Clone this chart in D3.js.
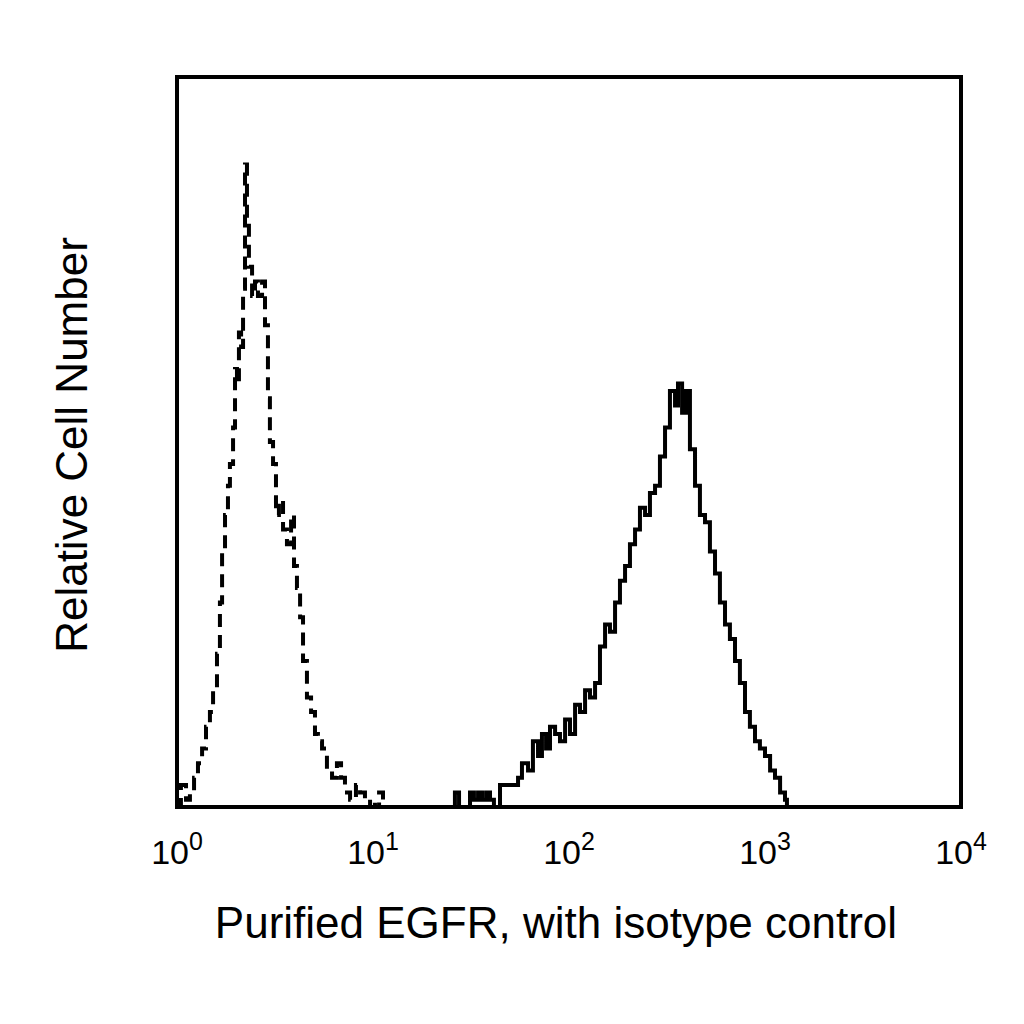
<!DOCTYPE html>
<html><head><meta charset="utf-8">
<script src="https://cdn.jsdelivr.net/npm/d3@7"></script>
<style>body{margin:0;background:#fff}</style></head>
<body><svg id="c" width="1024" height="1024"></svg>
<script>
// log10 fluorescence intensity (decades) and relative counts
const isoLog = [0,.020,.046,.066,.087,.107,.128,.148,.168,.184,.204,.219,.230,.245,.260,.270,.286,.296,.306,.316,.327,.337,.347,.357,.367,.383,.398,.413,.434,.449,.464,.474,.490,.505,.520,.541,.561,.582,.597,.612,.628,.643,.663,.684,.704,.719,.740,.765,.791,.816,.837,.857,.883,.913,.934,.959,.985,1.010,1.031,1.051];
const isoCount = [0,3,1,2,4,6,8,11,13,16,21,28,35,40,44,47,52,60,58,65,63,71,88,80,74,70,72,70,72,66,56,50,47,40,42,38,36,40,33,30,26,20,15,13,10,9,8,5,4,6,4,2,1,3,2,0,1,0,2,0];
const egfrLog = [1.403,1.418,1.439,1.495,1.515,1.536,1.556,1.577,1.597,1.617,1.648,1.699,1.740,1.760,1.791,1.816,1.842,1.862,1.883,1.903,1.929,1.954,1.980,2.005,2.031,2.056,2.082,2.107,2.133,2.158,2.184,2.209,2.235,2.260,2.286,2.311,2.337,2.362,2.388,2.413,2.439,2.464,2.490,2.515,2.541,2.556,2.577,2.597,2.617,2.643,2.668,2.694,2.719,2.745,2.770,2.796,2.821,2.847,2.872,2.898,2.923,2.949,2.974,3.000,3.026,3.051,3.077,3.102,3.112];
const egfrCount = [0,2,0,2,1,2,1,2,1,0,3,3,4,6,5,9,7,10,8,11,10,9,12,10,14,13,16,15,17,22,25,24,28,31,33,36,38,41,40,43,44,48,52,57,55,58,54,57,49,44,40,39,35,32,28,25,23,20,17,13,11,9,8,7,5,4,2,1,0];
const tickExp = [0,1,2,3,4];
const xTitle = "Purified EGFR, with isotype control";
const yTitle = "Relative Cell Number";

const svg = d3.select("#c");
const L=177,R=961,T=77,B=807;
const x = d3.scaleLinear().domain([0,4]).range([L,R]);
const y = d3.scaleLinear().domain([0,100]).range([B,T]);
const font = "Arial, 'Liberation Sans', sans-serif";

const line = d3.line().x(d=>x(d[0])).y(d=>y(d[1])).curve(d3.curveStepAfter);
svg.append("path").datum(d3.zip(isoLog,isoCount)).attr("d",line)
  .attr("fill","none").attr("stroke","#000").attr("stroke-width",4).attr("stroke-dasharray","13,8");
svg.append("path").datum(d3.zip(egfrLog,egfrCount)).attr("d",line)
  .attr("fill","none").attr("stroke","#000").attr("stroke-width",4);

svg.append("rect").attr("x",L).attr("y",T).attr("width",R-L).attr("height",B-T)
  .attr("fill","none").attr("stroke","#000").attr("stroke-width",4);

const tl = svg.selectAll(".tl").data(tickExp).enter().append("text")
  .attr("x",d=>x(d)).attr("y",864).attr("text-anchor","middle")
  .attr("font-family",font).attr("font-size",34);
tl.append("tspan").text("10");
tl.append("tspan").attr("dy",-14).attr("font-size",25).text(d=>d);

svg.append("text").attr("x",556).attr("y",938).attr("text-anchor","middle")
  .attr("font-family",font).attr("font-size",44).text(xTitle);
svg.append("text").attr("transform","translate(87,445) rotate(-90)").attr("text-anchor","middle")
  .attr("font-family",font).attr("font-size",44).text(yTitle);
</script></body></html>
